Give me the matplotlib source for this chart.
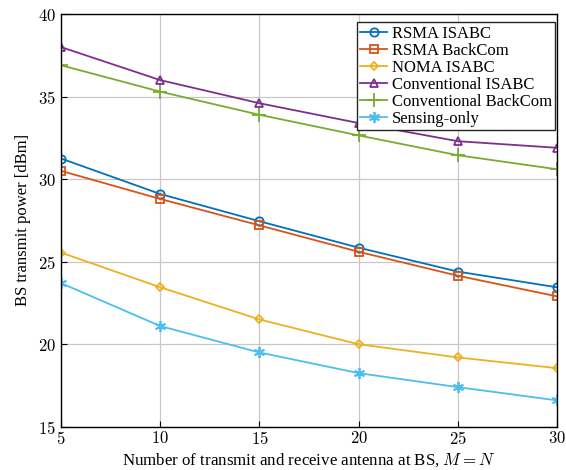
import matplotlib
matplotlib.use("Agg")
import matplotlib.pyplot as plt

x = [5, 10, 15, 20, 25, 30]
rsma_isabc = [31.25, 29.1, 27.45, 25.85, 24.4, 23.45]
rsma_backcom = [30.5, 28.8, 27.2, 25.6, 24.15, 22.9]
noma_isabc = [25.55, 23.45, 21.5, 20.0, 19.2, 18.55]
conv_isabc = [38.0, 36.0, 34.6, 33.4, 32.3, 31.9]
conv_backcom = [36.9, 35.3, 33.9, 32.65, 31.45, 30.6]
sensing_only = [23.7, 21.1, 19.5, 18.25, 17.4, 16.6]

labels = ["RSMA ISABC", "RSMA BackCom", "NOMA ISABC", "Conventional ISABC",
          "Conventional BackCom", "Sensing-only"]
series = [rsma_isabc, rsma_backcom, noma_isabc, conv_isabc, conv_backcom, sensing_only]
colors = ["#0072BD", "#D95319", "#EDB120", "#7E2F8E", "#77AC30", "#4DBEEE"]
markers = ["o", "s", "D", "^", "+", (6, 2, 0)]
msizes = [6, 5.5, 4.5, 6, 10, 8]

plt.rcParams['mathtext.fontset'] = 'cm'
plt.rcParams['font.family'] = 'cmr10'
plt.rcParams['axes.formatter.use_mathtext'] = True

fig = plt.figure(figsize=(5.66, 4.70), dpi=100)
ax = fig.add_axes([0.108, 0.092, 0.876, 0.878])

for y, lab, c, m, ms in zip(series, labels, colors, markers, msizes):
    ax.plot(x, y, color=c, marker=m, markersize=ms,
            markerfacecolor='none', markeredgewidth=1.3, linewidth=1.3, label=lab)

ax.set_xlim(5, 30)
ax.set_ylim(15, 40)
ax.set_xticks([5, 10, 15, 20, 25, 30])
ax.set_yticks([15, 20, 25, 30, 35, 40])
ax.grid(True, color='#c8c8c8', linewidth=0.9)
ax.set_axisbelow(True)
ax.tick_params(direction='in', labelsize=12, length=4)
ax.tick_params(axis='x', pad=2)
for s in ax.spines.values():
    s.set_linewidth(1.0)
fig.text(0.546, 0.003, r"Number of transmit and receive antenna at BS, $M = N$",
         fontsize=12.2, family='Liberation Serif', ha='center', va='bottom')
ax.set_ylabel("BS transmit power [dBm]", fontsize=12, family='Liberation Serif', labelpad=5)

leg = ax.legend(loc='upper right', bbox_to_anchor=(0.997, 0.98),
                prop={'family': 'Liberation Serif', 'size': 12},
                frameon=True, fancybox=False, edgecolor='#262626', framealpha=1,
                borderpad=0.2, labelspacing=0.06, handlelength=1.6, handletextpad=0.3,
                borderaxespad=0.0)
leg.get_frame().set_linewidth(1.0)

fig.savefig("out.png", dpi=100)
